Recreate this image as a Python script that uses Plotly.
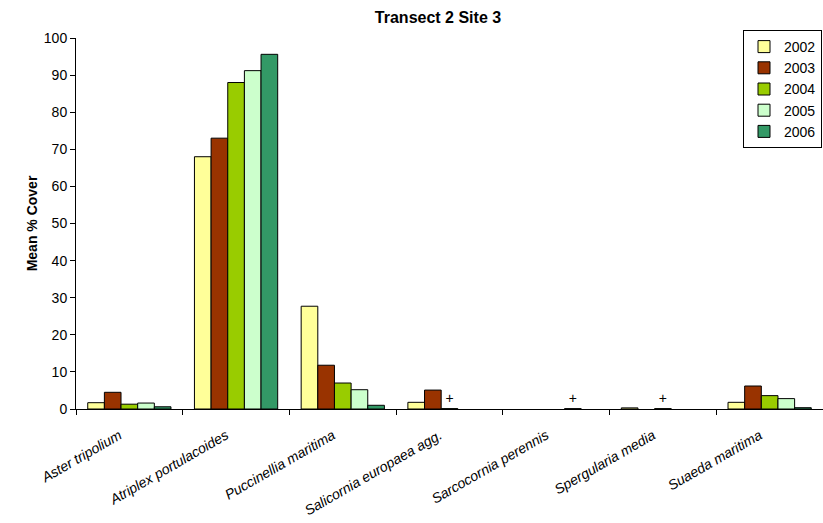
import plotly.graph_objects as go

species = ["Aster tripolium", "Atriplex portulacoides", "Puccinellia maritima",
           "Salicornia europaea agg.", "Sarcocornia perennis", "Spergularia media",
           "Suaeda maritima"]
years = ["2002", "2003", "2004", "2005", "2006"]
v2002 = [1.7, 68.0, 27.7, 1.8, None, 0.3, 1.8]
v2003 = [4.5, 73.0, 11.8, 5.1, None, None, 6.2]
v2004 = [1.3, 88.0, 7.0, 0.1, None, 0.1, 3.6]
v2005 = [1.6, 91.2, 5.2, None, 0.1, None, 2.8]
v2006 = [0.6, 95.6, 1.0, None, None, None, 0.35]
# "+" marks (present but trace cover)
p2002 = ["", "", "", "", "", "", ""]
p2003 = ["", "", "", "", "", "", ""]
p2004 = ["", "", "", "+", "", "+", ""]
p2005 = ["", "", "", "", "+", "", ""]
p2006 = ["", "", "", "", "", "", ""]
colors = ["#FFFF99", "#993300", "#99CC00", "#CCFFCC", "#339966"]

series = [v2002, v2003, v2004, v2005, v2006]
plus = [p2002, p2003, p2004, p2005, p2006]

fig = go.Figure()
for yr, vals, pm, c in zip(years, series, plus, colors):
    fig.add_trace(go.Bar(
        name=yr, x=species, y=vals, marker=dict(color=c, line=dict(color="black", width=1)),
        text=pm, textposition="outside", textfont=dict(size=14, color="black"),
        cliponaxis=False,
    ))

W, H = 823, 523
fig.update_layout(
    width=W, height=H,
    barmode="group", bargap=0.22, bargroupgap=0,
    plot_bgcolor="white", paper_bgcolor="white",
    font=dict(family="Liberation Sans, Arial", size=14, color="black"),
    margin=dict(l=76, r=0, t=38, b=114, autoexpand=False),
    title=dict(text="<b>Transect 2 Site 3</b>", x=438/W, xanchor="center",
               y=1 - 17/H, yanchor="middle", font=dict(size=16)),
    legend=dict(
        x=1 - 1/747, xanchor="right", y=1 + 8/371, yanchor="top",
        bordercolor="black", borderwidth=1, bgcolor="white",
        font=dict(size=14), tracegroupgap=0, itemwidth=30,
    ),
)
fig.update_yaxes(
    range=[0, 100], dtick=10, showline=True, linecolor="black", linewidth=1,
    ticks="outside", ticklen=5, tickcolor="black", showgrid=False, zeroline=False,
    automargin=False, tickfont=dict(size=14),
    title=dict(text="<b>Mean % Cover</b>", font=dict(size=14), standoff=2),
)
fig.update_xaxes(
    showline=True, linecolor="black", linewidth=1, ticks="outside", ticklen=5,
    tickcolor="black", tickson="boundaries", tickangle=-30, showgrid=False,
    automargin=False, ticklabelstandoff=12, ticklabelshift=-10,
    tickfont=dict(size=14, style="italic"),
)
fig.write_html(
    "out.html",
    config={"displayModeBar": False},
    post_script="document.body.style.margin='0';document.body.style.overflow='hidden';",
)
